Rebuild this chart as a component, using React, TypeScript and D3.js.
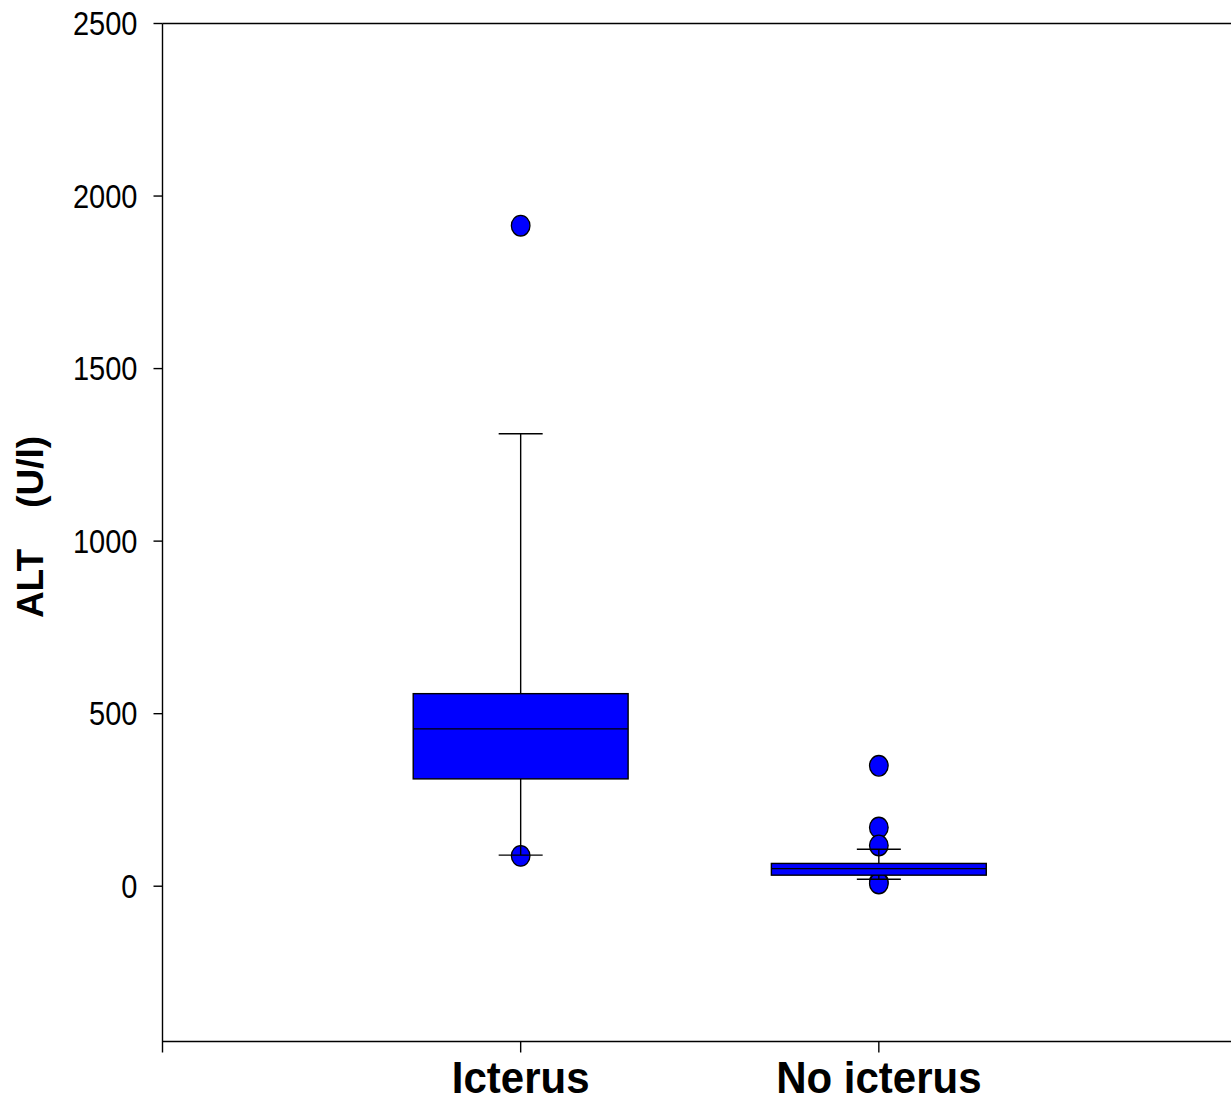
import React from "react";
import * as d3 from "d3";

// Box-plot summaries of ALT (U/l) per group
const categories = ["Icterus", "No icterus"];
const lowerWhisker = [90, 20];
const q1 = [311, 32];
const median = [456, 51];
const q3 = [558, 66];
const upperWhisker = [1311, 107];
const outliers: number[][] = [
  [1914, 88],
  [349, 170, 118, 12, 8],
];
const yTicks = [0, 500, 1000, 1500, 2000, 2500];

const W = 1231;
const H = 1102;
const left = 162.5;
const top = 23.5;
const bottom = 1041.5;

export default function App() {
  const x = d3.scaleLinear().domain([0, 3]).range([left, 1237]);
  const y = d3.scaleLinear().domain([-450, 2500]).range([bottom, top]);
  const boxHalf = x(0.3) - x(0);
  const capHalf = 22;
  const sy = 1.13;
  const ink = "#000";
  const sw = 1.4;

  return (
    <svg
      width={W}
      height={H}
      style={{ position: "absolute", left: 0, top: 0, background: "#fff" }}
      fontFamily="Arial, 'Liberation Sans', Helvetica, sans-serif"
    >
      {/* frame lines: left axis, top and bottom */}
      <line x1={left} x2={left} y1={top} y2={bottom + 11} stroke={ink} strokeWidth={sw} />
      <line x1={left} x2={W} y1={top} y2={top} stroke={ink} strokeWidth={sw} />
      <line x1={left} x2={W} y1={bottom} y2={bottom} stroke={ink} strokeWidth={sw} />

      {/* y ticks and labels */}
      {yTicks.map((t) => (
        <g key={t}>
          <line x1={left - 9} x2={left} y1={y(t)} y2={y(t)} stroke={ink} strokeWidth={sw} />
          <g transform={`translate(${left - 25},${y(t)}) scale(1,${sy})`}>
            <text textAnchor="end" y={10.4} fontSize={29} fill="#000">
              {t}
            </text>
          </g>
        </g>
      ))}

      {/* x ticks and category labels */}
      {categories.map((c, i) => (
        <g key={c}>
          <line x1={x(i + 1)} x2={x(i + 1)} y1={bottom} y2={bottom + 11} stroke={ink} strokeWidth={sw} />
          <g transform={`translate(${x(i + 1)},1093) scale(1,1.07)`}>
            <text textAnchor="middle" fontSize={42} fontWeight="bold" fill="#000">
              {c}
            </text>
          </g>
        </g>
      ))}

      {/* y axis title */}
      <text
        transform="translate(43,527) rotate(-90)"
        textAnchor="middle"
        fontSize={37}
        fontWeight="bold"
        fill="#000"
        style={{ whiteSpace: "pre" }}
      >
        {"ALT    (U/l)"}
      </text>

      {/* outliers (drawn beneath boxes and whiskers) */}
      {categories.map((c, i) =>
        outliers[i].map((v, j) => (
          <ellipse
            key={`${c}-${j}`}
            cx={x(i + 1)}
            cy={y(v)}
            rx={9.3}
            ry={10.3}
            fill="#0000ff"
            stroke={ink}
            strokeWidth={1.3}
          />
        ))
      )}

      {/* boxes and whiskers */}
      {categories.map((c, i) => {
        const cx = x(i + 1);
        return (
          <g key={c}>
            <line x1={cx} x2={cx} y1={y(q3[i])} y2={y(upperWhisker[i])} stroke={ink} strokeWidth={sw} />
            <line x1={cx} x2={cx} y1={y(q1[i])} y2={y(lowerWhisker[i])} stroke={ink} strokeWidth={sw} />
            <line x1={cx - capHalf} x2={cx + capHalf} y1={y(upperWhisker[i])} y2={y(upperWhisker[i])} stroke={ink} strokeWidth={sw} />
            <line x1={cx - capHalf} x2={cx + capHalf} y1={y(lowerWhisker[i])} y2={y(lowerWhisker[i])} stroke={ink} strokeWidth={sw} />
            <rect
              x={cx - boxHalf}
              y={y(q3[i])}
              width={boxHalf * 2}
              height={y(q1[i]) - y(q3[i])}
              fill="#0000ff"
              stroke={ink}
              strokeWidth={sw}
            />
            <line x1={cx - boxHalf} x2={cx + boxHalf} y1={y(median[i])} y2={y(median[i])} stroke={ink} strokeWidth={sw} />
          </g>
        );
      })}
    </svg>
  );
}
